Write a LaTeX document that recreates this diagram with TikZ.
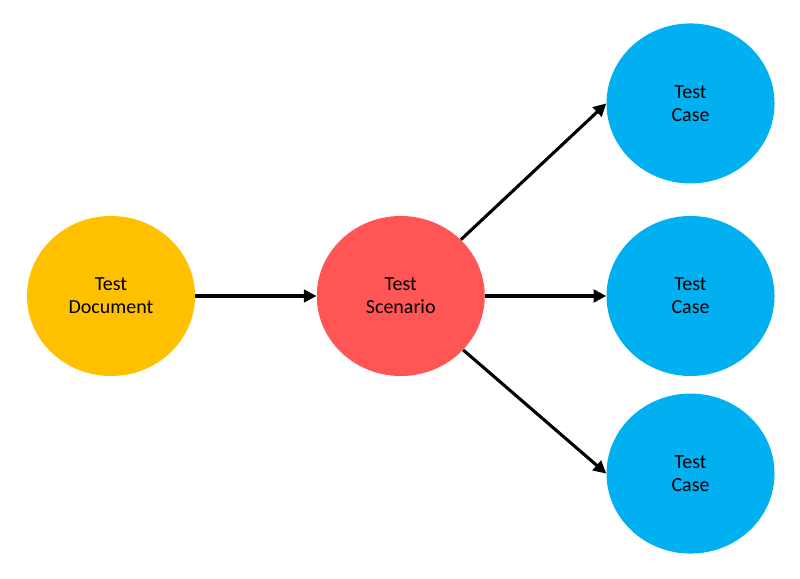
\documentclass[tikz,border=0pt]{standalone}
\usepackage{fontspec}
\setmainfont{Carlito}
\usepackage{xcolor}
\definecolor{docgold}{RGB}{255,192,0}
\definecolor{scenred}{RGB}{255,85,85}
\definecolor{caseblue}{RGB}{0,176,240}
\usepackage{tikz}
\usetikzlibrary{arrows.meta,positioning,shapes.geometric}

\begin{document}
\begin{tikzpicture}[
  blob/.style={ellipse,draw=none,minimum width=4.2cm,minimum height=4cm,
               inner sep=0pt,align=center,font=\fontsize{14.2}{16.4}\selectfont},
  flow/.style={-{Triangle[length=9pt,width=9pt]},line width=2.2pt,black},
  node distance=3.03cm,
]
  \useasboundingbox (0,0) rectangle (20,-14.475);
  \node[blob,fill=docgold](doc) at (2.775,-7.4){Test\\Document};
  \node[blob,fill=scenred,right=of doc](scen){Test\\Scenario};
  \node[blob,fill=caseblue,right=of scen](mid){Test\\Case};
  \node[blob,fill=caseblue,above=0.8cm of mid](top){Test\\Case};
  \node[blob,fill=caseblue,below=0.425cm of mid](bot){Test\\Case};
  \draw[flow] (doc) -- (scen);
  \draw[flow] (scen) -- (mid);
  \draw[flow] (scen) -- (top.west);
  \draw[flow] (scen) -- (bot.west);
\end{tikzpicture}
\end{document}
